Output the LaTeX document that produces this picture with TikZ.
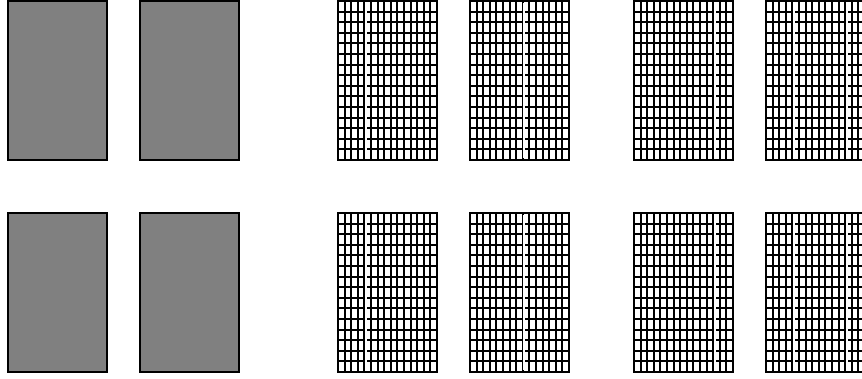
\documentclass[tikz,border=0pt]{standalone}
\usepackage{xcolor}
\usepackage{tikz}
\usetikzlibrary{positioning}
\begin{document}
\begin{tikzpicture}[x=1pt, y=-1pt,
        frame/.style={draw=black, line width=2.2pt},
        cellline/.style={draw=black, line width=2pt},
        seam/.style={draw=white, line width=1.2pt}]
        \clip (0,0) rectangle (862,378);

        % plain grey panels
        \foreach \x in {8,140} {
          \foreach \y in {1,213} {
            \filldraw[frame, fill=gray] (\x,\y) rectangle ++(99,159);
          }
        }

        % panels with cells
        \foreach \x in {338,470,634,766} {
          \foreach \y in {1,213} {
            \foreach \i in {1,...,14} {
              \draw[cellline] (\x+\i*6.6,\y) -- ++(0,159);
              \draw[cellline] (\x,\y+\i*10.6) -- ++(99,0);
            }
            \draw[frame] (\x,\y) rectangle ++(99,159);
          }
        }

        % white seams
        \foreach \s in {366,524,715,794,847} {
          \foreach \y in {1,213} {
            \draw[seam] (\s,\y+2) -- ++(0,155);
          }
        }
      \end{tikzpicture}
\end{document}
